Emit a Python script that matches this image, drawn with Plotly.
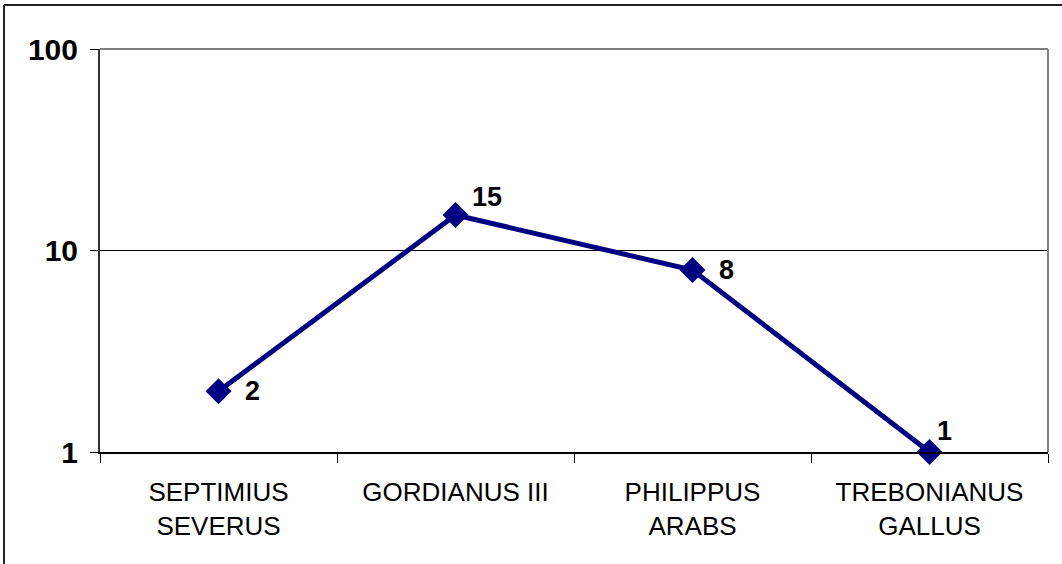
import math
import plotly.graph_objects as go

categories = ["SEPTIMIUS<br>SEVERUS", "GORDIANUS III", "PHILIPPUS<br>ARABS", "TREBONIANUS<br>GALLUS"]
values = [2, 15, 8, 1]
y_tickvals = [1, 10, 100]
y_ticktext = ["1", "10", "100"]

# label offsets (pixels) relative to each point
label_dx = [24, 14, 24, 5]
label_dy = [0, 18, 0, 21]

W, H = 1062, 564
L, R, T, B = 100, 14, 49, 112
pw, ph = W - L - R, H - T - B
FONT = "Liberation Sans, Arial, sans-serif"

fig = go.Figure()
fig.add_trace(go.Scatter(
    x=categories, y=values,
    mode="lines+markers",
    line=dict(color="#000080", width=5),
    marker=dict(symbol="diamond", size=20, color="#000080"),
    cliponaxis=False,
    showlegend=False,
))

for c, v, dx, dy in zip(categories, values, label_dx, label_dy):
    fig.add_annotation(
        x=c, y=math.log10(v), yref="y", xref="x", text=str(v), showarrow=False,
        xanchor="left", yanchor="middle", xshift=dx, yshift=dy,
        font=dict(family=FONT, size=27, color="black", weight="bold"),
    )

fig.update_layout(
    width=W, height=H,
    margin=dict(l=L, r=R, t=T, b=B),
    paper_bgcolor="white", plot_bgcolor="white",
    font=dict(family=FONT, color="black"),
    hovermode=False,
    xaxis=dict(
        type="category", range=[-0.5, 3.5],
        showgrid=False, showline=True, linecolor="black", linewidth=2,
        ticks="outside", ticklen=9, tickcolor="black", tickwidth=1,
        tickson="boundaries",
        tickfont=dict(size=26, color="black"),
        ticklabelstandoff=16,
        zeroline=False,
    ),
    yaxis=dict(
        type="log", range=[0, 2],
        tickvals=y_tickvals, ticktext=y_ticktext,
        showgrid=True, gridcolor="black", gridwidth=1,
        showline=True, linecolor="#333333", linewidth=2,
        ticks="outside", ticklen=8, tickcolor="black", tickwidth=1,
        tickfont=dict(size=30, color="black", weight="bold"),
        ticklabelstandoff=6,
        zeroline=False,
    ),
    shapes=[
        dict(type="line", xref="paper", yref="paper", x0=0, x1=1, y0=1, y1=1,
             line=dict(color="#808080", width=2), layer="above"),
        dict(type="line", xref="paper", yref="paper", x0=1, x1=1, y0=0, y1=1,
             line=dict(color="#808080", width=2), layer="above"),
        dict(type="line", xref="paper", yref="paper",
             x0=(4 - L) / pw, x1=(4 - L) / pw, y0=-(H - T) / ph, y1=(H - 5 - B) / ph,
             line=dict(color="#222222", width=2)),
        dict(type="line", xref="paper", yref="paper",
             x0=(4 - L) / pw, x1=(W + 5 - L) / pw, y0=(H - 5 - B) / ph, y1=(H - 5 - B) / ph,
             line=dict(color="#222222", width=2)),
    ],
)

fig.write_html("out.html", config={"displayModeBar": False},
               post_script="document.body.style.margin='0';")
